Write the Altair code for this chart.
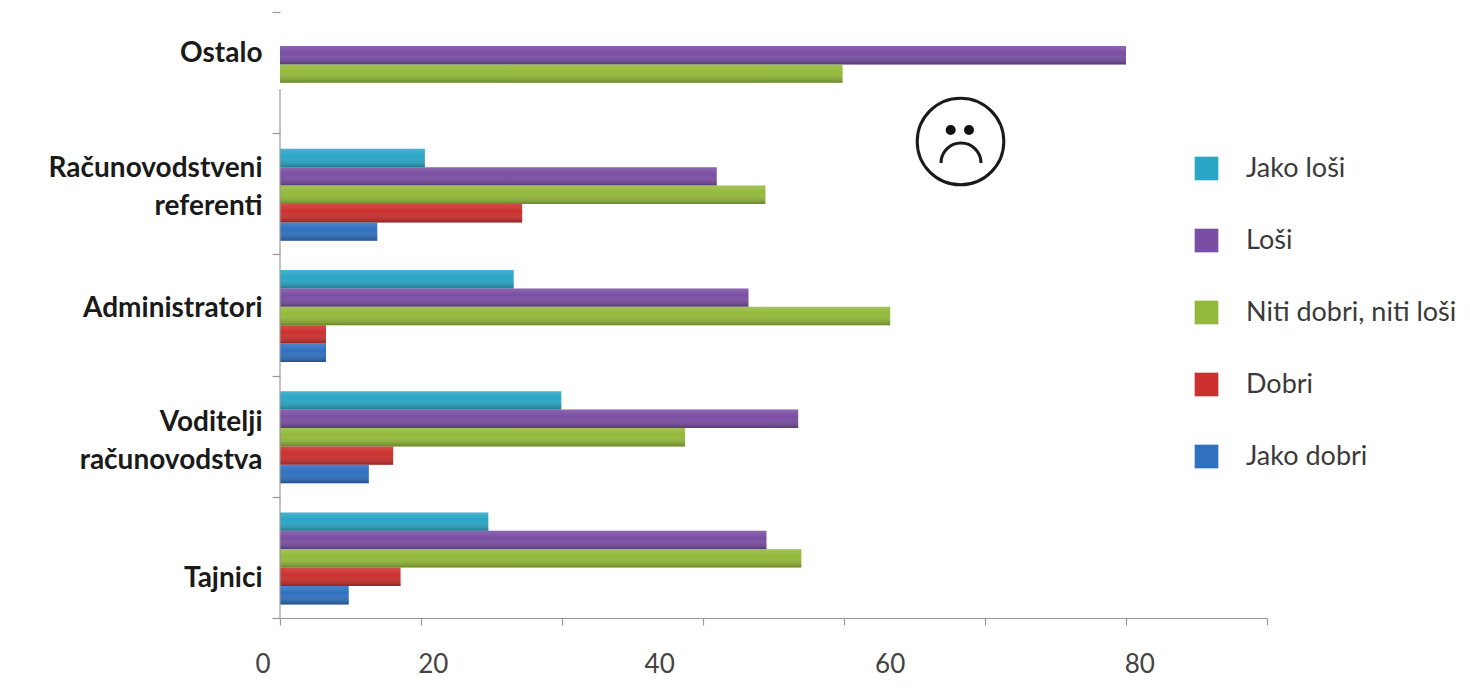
import altair as alt
import pandas as pd

categories = ["Ostalo", "Računovodstveni referenti", "Administratori", "Voditelji računovodstva", "Tajnici"]
series = ["Jako loši", "Loši", "Niti dobri, niti loši", "Dobri", "Jako dobri"]
colors = ["#2aa6c6", "#7a4ea3", "#93b93a", "#cc302e", "#2f70bf"]

jako_losi = [None, 13.7, 22.1, 26.6, 19.7]
losi = [80.0, 41.3, 44.3, 49.0, 46.0]
niti = [53.2, 45.9, 57.7, 38.3, 49.3]
dobri = [None, 22.9, 4.35, 10.7, 11.4]
jako_dobri = [None, 9.2, 4.35, 8.4, 6.5]
values = [jako_losi, losi, niti, dobri, jako_dobri]

x_ticks = [0, 13.333, 26.667, 40, 53.333, 66.667, 80, 93.333]
x_label_text = ["0", "20", "40", "60", "80"]
x_label_pos = [-1.6, 14.5, 35.9, 57.7, 81.3]

rows = [
    {"cat": c, "series": s, "v": vals[i]}
    for s, vals in zip(series, values)
    for i, c in enumerate(categories)
    if vals[i] is not None
]
df = pd.DataFrame(rows)
font = "Lato"

x_scale = alt.Scale(domain=[0, 93.333], nice=False, zero=False)
y_scale = alt.Scale(domain=categories, paddingInner=0, paddingOuter=0)
off_scale = alt.Scale(domain=series, paddingInner=0, paddingOuter=0.793, align=0.534)

label_expr = ("datum.value == 'Računovodstveni referenti' ? ['Računovodstveni', 'referenti'] : "
              "datum.value == 'Voditelji računovodstva' ? ['Voditelji', 'računovodstva'] : datum.value")
label_offset = ("datum.value == 'Ostalo' ? -19 : datum.value == 'Računovodstveni referenti' ? -25 : "
                "datum.value == 'Administratori' ? -7 : datum.value == 'Voditelji računovodstva' ? -14 : 21")

bars = alt.Chart(df).mark_bar(opacity=1).encode(
    x=alt.X("v:Q", scale=x_scale,
            axis=alt.Axis(values=x_ticks, labels=False, title=None, grid=False, tickSize=7,
                          tickColor="#999999", domainColor="#999999", domainWidth=1.2, tickWidth=1.2)),
    y=alt.Y("cat:N", scale=y_scale, sort=categories,
            axis=alt.Axis(title=None, domain=False, grid=False, tickBand="extent", tickSize=8,
                          tickColor="#999999", tickWidth=1.2, labelFont=font, labelFontSize=28,
                          labelFontWeight="bold", labelColor="#1a1a1a", labelPadding=10,
                          labelLineHeight=38, labelLimit=300,
                          labelExpr=label_expr, labelOffset=alt.expr(label_offset))),
    yOffset=alt.YOffset("series:N", scale=off_scale, sort=series),
    color=alt.Color("series:N", sort=series,
                    scale=alt.Scale(domain=series, range=colors),
                    legend=alt.Legend(title=None, orient="none", legendX=913, legendY=143,
                                      symbolType="square", symbolSize=560, symbolStrokeWidth=0,
                                      symbolOpacity=1, rowPadding=44, labelOffset=26,
                                      labelFont=font, labelFontSize=27, labelColor="#3a3a3a",
                                      labelLimit=300)),
)

sheen = alt.Gradient(
    gradient="linear", x1=0, x2=0, y1=0, y2=1,
    stops=[alt.GradientStop(color="rgba(255,255,255,0.14)", offset=0),
           alt.GradientStop(color="rgba(255,255,255,0)", offset=0.4),
           alt.GradientStop(color="rgba(0,0,0,0.28)", offset=1)],
)
overlay = alt.Chart(df).mark_bar(fill=sheen, opacity=1).encode(
    x=alt.X("v:Q", scale=x_scale),
    y=alt.Y("cat:N", scale=y_scale, sort=categories),
    yOffset=alt.YOffset("series:N", scale=off_scale, sort=series),
)

y_line = alt.Chart(pd.DataFrame({"v": [0]})).mark_rule(color="#999999", strokeWidth=1.2).encode(
    x=alt.X("v:Q", scale=x_scale), y=alt.value(77), y2=alt.value(606)
)

x_labels = alt.Chart(pd.DataFrame({"t": x_label_text, "p": x_label_pos})).mark_text(
    font=font, fontSize=26, color="#444444", align="center", baseline="middle"
).encode(x=alt.X("p:Q", scale=x_scale), y=alt.value(653), text="t:N")

face_ring = alt.Chart(pd.DataFrame({"k": ["ring"]})).mark_point(
    filled=False, stroke="#1a1a1a", strokeWidth=3, size=7500, shape="circle", opacity=1
).encode(x=alt.value(680.5), y=alt.value(129.5))
face_eyes = alt.Chart(pd.DataFrame({"k": ["l", "r"], "px": [670.7, 689]})).mark_point(
    filled=True, fill="#111111", size=100, shape="circle", opacity=1
).encode(x=alt.X("px:Q", scale=None), y=alt.value(118))
face_mouth = alt.Chart(pd.DataFrame({"k": ["mouth"]})).mark_point(
    filled=False, stroke="#1a1a1a", strokeWidth=3, size=1600, opacity=1,
    shape="M-1,0A1,1,0,0,1,1,0"
).encode(x=alt.value(681), y=alt.value(151))

chart = alt.layer(bars, overlay, y_line, x_labels, face_ring, face_eyes, face_mouth).properties(
    width=987, height=606,
    padding={"left": 272, "top": 4, "right": 195, "bottom": 60},
    autosize=alt.AutoSizeParams(type="none"),
).configure_view(stroke=None)

chart.save("out.html", embed_options={"renderer": "svg", "actions": False})
